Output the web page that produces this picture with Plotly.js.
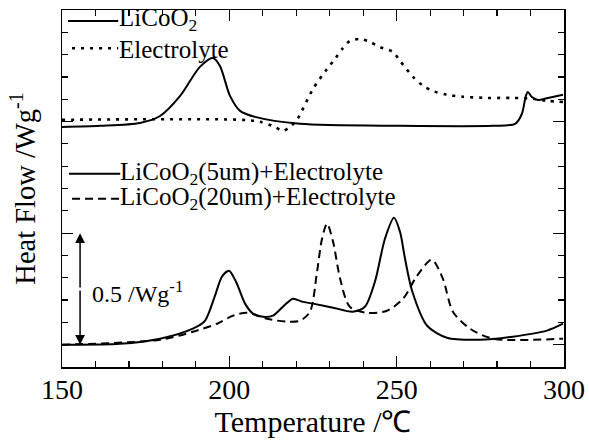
<!DOCTYPE html>
<html>
<head>
<meta charset="utf-8">
<script src="https://cdn.plot.ly/plotly-3.0.1.min.js"></script>
<style>html,body{margin:0;padding:0;background:#fff;}#chart{width:589px;height:440px;}</style>
</head>
<body>
<div id="chart"></div>
<script>
// Temperature (°C) and heat flow (W/g, offset)
const licoo2T = [150, 161.4, 173.3, 179.3, 185.3, 191.2, 195.1, 197.2, 200.2, 203.2, 207.7, 221.1, 251, 278.8, 285.4, 287.4, 288.6, 289.2, 290.4, 292.2, 295.2, 299.7];
const licoo2V = [0.976, 0.981, 0.994, 1.025, 1.115, 1.245, 1.285, 1.249, 1.115, 1.048, 1.021, 0.99, 0.981, 0.981, 0.99, 1.034, 1.115, 1.133, 1.11, 1.097, 1.106, 1.12];

const electT = [150, 203.2, 209.2, 213.6, 216.0, 218.1, 220.2, 225.0, 229.2, 231.6, 233.7, 236.0, 239.0, 242.0, 245.0, 248.9, 251.0, 254.9, 257.9, 260.8, 265.0, 269.8, 277.0, 284.7, 290.7, 294.9, 299.7];
const electV = [1.008, 1.008, 0.999, 0.976, 0.958, 0.976, 1.008, 1.146, 1.236, 1.281, 1.325, 1.361, 1.370, 1.357, 1.334, 1.312, 1.272, 1.200, 1.160, 1.137, 1.120, 1.111, 1.106, 1.106, 1.102, 1.093, 1.088];

const mix5T = [150, 167.3, 179.3, 189.1, 192.7, 195.7, 197.8, 199.9, 202.0, 204.7, 207.1, 210.1, 213.0, 216.0, 219.0, 221.7, 225.0, 231.0, 236.9, 240.5, 243.5, 246.5, 249.2, 251.0, 252.5, 254.6, 259.1, 265.0, 274.9, 284.7, 294.9, 299.7];
const mix5V = [0, 0.004, 0.027, 0.072, 0.107, 0.219, 0.305, 0.331, 0.282, 0.184, 0.139, 0.125, 0.130, 0.170, 0.206, 0.193, 0.184, 0.166, 0.148, 0.170, 0.282, 0.475, 0.569, 0.506, 0.385, 0.242, 0.085, 0.031, 0.022, 0.036, 0.063, 0.094];

const mix20T = [150, 179.3, 189.1, 196.3, 201.1, 205.3, 211.3, 217.2, 221.1, 224.1, 226.2, 227.7, 229.2, 231.0, 233.1, 236.0, 241.1, 247.1, 251.9, 256.1, 260.5, 263.8, 266.8, 271.9, 278.8, 299.7];
const mix20V = [0, 0.022, 0.058, 0.094, 0.130, 0.143, 0.116, 0.103, 0.107, 0.148, 0.327, 0.475, 0.542, 0.461, 0.296, 0.170, 0.143, 0.152, 0.206, 0.309, 0.381, 0.296, 0.148, 0.072, 0.027, 0.027];

const xTickVals = [150, 200, 250, 300];
const scaleBar = [0, 0.5]; // 0.5 W/g scale arrow

const serif = 'Liberation Serif, Times New Roman, serif';
const ln = (dash, w) => ({color: '#000', width: w || 2, dash: dash, shape: 'spline', smoothing: 0.8});

const traces = [
  {x: licoo2T, y: licoo2V, mode: 'lines', line: ln('solid'), name: 'LiCoO2'},
  {x: electT, y: electV, mode: 'lines', line: ln('3px,6px', 2.6), name: 'Electrolyte'},
  {x: mix5T, y: mix5V, mode: 'lines', line: ln('solid'), name: 'LiCoO2(5um)+Electrolyte'},
  {x: mix20T, y: mix20V, mode: 'lines', line: ln('8px,5px'), name: 'LiCoO2(20um)+Electrolyte'}
];

const mid = (scaleBar[0] + scaleBar[1]) / 2;
const arrowX = 155.4;
const legFont = {family: serif, size: 25, color: '#000'};

const layout = {
  width: 589, height: 440,
  margin: {l: 62, r: 25, t: 10, b: 73},
  paper_bgcolor: '#fff', plot_bgcolor: '#fff',
  showlegend: false,
  font: {family: serif, color: '#000'},
  xaxis: {
    range: [150, 300], showgrid: false, zeroline: false,
    showline: true, linecolor: '#000', linewidth: 1.5, mirror: 'ticks',
    ticks: 'inside', ticklen: 11, tickwidth: 1.2, tickcolor: '#000',
    tickvals: xTickVals, ticktext: xTickVals.map(String),
    tickfont: {family: serif, size: 28, color: '#000'},
    ticklabelstandoff: -3,
    minor: {dtick: 10, ticks: 'inside', ticklen: 6, tickwidth: 1.2, tickcolor: '#000', showgrid: false},
    title: {text: 'Temperature /℃', font: {family: serif, size: 30, color: '#000'}, standoff: 6}
  },
  yaxis: {
    range: [-0.1, 1.5], showgrid: false, zeroline: false,
    showline: true, linecolor: '#000', linewidth: 1.5, mirror: 'ticks',
    ticks: 'inside', ticklen: 11, tickwidth: 1.2, tickcolor: '#000',
    tick0: 0, dtick: 0.5, showticklabels: false,
    minor: {dtick: 0.1, ticks: 'inside', ticklen: 6, tickwidth: 1.2, tickcolor: '#000', showgrid: false},
    title: {text: 'Heat Flow /Wg<sup>-1</sup>', font: {family: serif, size: 28.5, color: '#000'}, standoff: 16}
  },
  shapes: [
    {type: 'line', xref: 'paper', yref: 'paper', x0: 0.012, x1: 0.112, y0: 0.969, y1: 0.969, line: {color: '#000', width: 2}},
    {type: 'line', xref: 'paper', yref: 'paper', x0: 0.02, x1: 0.112, y0: 0.893, y1: 0.893, line: {color: '#000', width: 2.6, dash: '3px,6px'}},
    {type: 'line', xref: 'paper', yref: 'paper', x0: 0.014, x1: 0.116, y0: 0.541, y1: 0.541, line: {color: '#000', width: 2}},
    {type: 'line', xref: 'paper', yref: 'paper', x0: 0.02, x1: 0.116, y0: 0.471, y1: 0.471, line: {color: '#000', width: 2, dash: '8px,5px'}}
  ],
  annotations: [
    {xref: 'paper', yref: 'paper', x: 0.112, y: 0.974, xanchor: 'left', yanchor: 'middle', text: 'LiCoO<sub>2</sub>', showarrow: false, font: legFont, borderpad: 0},
    {xref: 'paper', yref: 'paper', x: 0.112, y: 0.889, xanchor: 'left', yanchor: 'middle', text: 'Electrolyte', showarrow: false, font: legFont, borderpad: 0},
    {xref: 'paper', yref: 'paper', x: 0.114, y: 0.541, xanchor: 'left', yanchor: 'middle', text: 'LiCoO<sub>2</sub>(5um)+Electrolyte', showarrow: false, font: legFont, borderpad: 0},
    {xref: 'paper', yref: 'paper', x: 0.114, y: 0.471, xanchor: 'left', yanchor: 'middle', text: 'LiCoO<sub>2</sub>(20um)+Electrolyte', showarrow: false, font: legFont, borderpad: 0},
    {x: arrowX, y: scaleBar[1], ax: arrowX, ay: mid, axref: 'x', ayref: 'y', text: '', showarrow: true, arrowhead: 2, arrowsize: 1.3, arrowwidth: 1.5, arrowcolor: '#000', standoff: 0},
    {x: arrowX, y: scaleBar[0], ax: arrowX, ay: mid, axref: 'x', ayref: 'y', text: '', showarrow: true, arrowhead: 2, arrowsize: 1.3, arrowwidth: 1.5, arrowcolor: '#000', standoff: 0},
    {x: 158.3, y: 0.235, xanchor: 'left', yanchor: 'middle', text: '0.5 /Wg<sup>-1</sup>', showarrow: false, font: {family: serif, size: 24, color: '#000'}}
  ]
};

Plotly.newPlot('chart', traces, layout, {staticPlot: true, displayModeBar: false});
</script>
</body>
</html>
